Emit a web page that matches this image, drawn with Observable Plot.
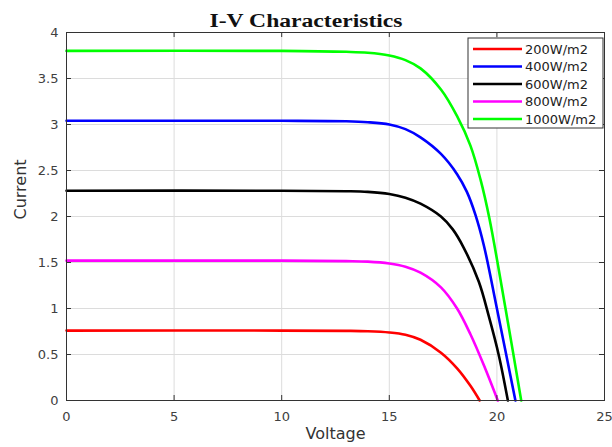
<!DOCTYPE html>
<html>
<head>
<meta charset="utf-8">
<script src="https://cdn.jsdelivr.net/npm/d3@7"></script>
<script src="https://cdn.jsdelivr.net/npm/@observablehq/plot@0.6"></script>
<style>
  html, body { margin: 0; padding: 0; background: #fff; }
</style>
</head>
<body>
<div id="chart"></div>
<script>
// I-V curves of a PV module, one per legend entry: [voltage (V), current (A)]
const curve200 = [[0,0.76],[10,0.76],[13,0.757],[14,0.753],[15,0.74],[15.75,0.715],[16.45,0.66],[17.4,0.52],[18.15,0.35],[18.77,0.16],[19.2,0]];
const curve400 = [[0,3.04],[10,3.04],[13,3.035],[14,3.025],[15,3.0],[15.75,2.95],[16.45,2.86],[17.4,2.68],[18.15,2.46],[18.6,2.27],[19.0,2.02],[19.4,1.68],[20.0,1.0],[20.86,0]];
const curve600 = [[0,2.28],[10,2.28],[13,2.275],[14,2.268],[15,2.245],[15.75,2.205],[16.45,2.14],[17.4,2.0],[17.95,1.86],[18.46,1.66],[19.16,1.29],[19.62,0.92],[20.09,0.49],[20.51,0]];
const curve800 = [[0,1.52],[10,1.52],[13,1.515],[14,1.51],[15,1.49],[15.75,1.455],[16.45,1.39],[17.4,1.23],[18.15,1.0],[18.77,0.72],[19.4,0.38],[20.04,0]];
const curve1000 = [[0,3.8],[10,3.8],[13,3.79],[14,3.78],[15,3.75],[15.75,3.70],[16.45,3.61],[17.4,3.38],[18.15,3.09],[18.77,2.77],[19.24,2.40],[19.65,1.98],[20.4,1.0],[21.13,0]];

const seriesNames = ["200W/m2", "400W/m2", "600W/m2", "800W/m2", "1000W/m2"];
const seriesColors = ["#ff0000", "#0000ff", "#000000", "#ff00ff", "#00ff00"];
const seriesCurves = [curve200, curve400, curve600, curve800, curve1000];

const xTicks = [0, 5, 10, 15, 20, 25];
const yTicks = [0, 0.5, 1, 1.5, 2, 2.5, 3, 3.5, 4];

const rows = seriesNames.flatMap((name, k) =>
  seriesCurves[k].map(([V, I]) => ({series: name, V, I})));

const W = 612, H = 447;
const mL = 66, mR = 8, mT = 32, mB = 47;
const innerW = W - mL - mR, innerH = H - mT - mB;
const tickLen = 5;
const axisColor = "#333";

const chart = Plot.plot({
  width: W, height: H,
  marginLeft: mL, marginRight: mR, marginTop: mT, marginBottom: mB,
  style: {fontFamily: "DejaVu Sans", fontSize: "13px", color: "#404040", background: "#fff"},
  x: {domain: [0, 25]},
  y: {domain: [0, 4]},
  color: {domain: seriesNames, range: seriesColors},
  marks: [
    Plot.gridX(xTicks, {stroke: "#dcdcdc", strokeOpacity: 1}),
    Plot.gridY(yTicks, {stroke: "#dcdcdc", strokeOpacity: 1}),
    Plot.line(rows, {x: "V", y: "I", z: "series", stroke: "series", strokeWidth: 2.6, curve: "catmull-rom"}),
    Plot.frame({stroke: axisColor}),
    // inward ticks on all four sides
    Plot.ruleX(xTicks, {x: d => d, insetTop: innerH - tickLen, stroke: axisColor}),
    Plot.ruleX(xTicks, {x: d => d, insetBottom: innerH - tickLen, stroke: axisColor}),
    Plot.ruleY(yTicks, {y: d => d, insetRight: innerW - tickLen, stroke: axisColor}),
    Plot.ruleY(yTicks, {y: d => d, insetLeft: innerW - tickLen, stroke: axisColor}),
    Plot.axisX(xTicks, {tickSize: 0, tickPadding: 11, label: null, tickFormat: d => String(d)}),
    Plot.axisY(yTicks, {tickSize: 0, tickPadding: 8, label: null, tickFormat: d => String(d)}),
    Plot.text(["Voltage"], {frameAnchor: "bottom", dy: 38, fontSize: 16, fill: "#333"}),
    Plot.text(["Current"], {frameAnchor: "left", dx: -46, dy: 3, rotate: -90, fontSize: 16, fill: "#333"})
  ]
});

const svg = d3.select(chart);

// title
svg.append("text")
  .attr("x", 306).attr("y", 27)
  .attr("text-anchor", "middle")
  .attr("font-family", "'Liberation Serif', 'Times New Roman', serif")
  .attr("font-weight", "bold")
  .attr("font-size", 18)
  .attr("fill", "#111")
  .attr("textLength", 193)
  .attr("lengthAdjust", "spacingAndGlyphs")
  .text("I-V Characteristics");

// legend box
const lg = svg.append("g").attr("transform", "translate(468,38)");
lg.append("rect")
  .attr("width", 135).attr("height", 90)
  .attr("fill", "#fff").attr("stroke", axisColor).attr("stroke-width", 1);
seriesNames.forEach((name, k) => {
  const y = 11 + k * 17.5;
  lg.append("line")
    .attr("x1", 5).attr("x2", 54).attr("y1", y).attr("y2", y)
    .attr("stroke", seriesColors[k]).attr("stroke-width", 2.6);
  lg.append("text")
    .attr("x", 57).attr("y", y).attr("dy", "0.36em")
    .attr("text-anchor", "start")
    .attr("font-family", "DejaVu Sans").attr("font-size", 13)
    .attr("fill", "#222")
    .text(name);
});

document.getElementById("chart").appendChild(chart);
</script>
</body>
</html>
